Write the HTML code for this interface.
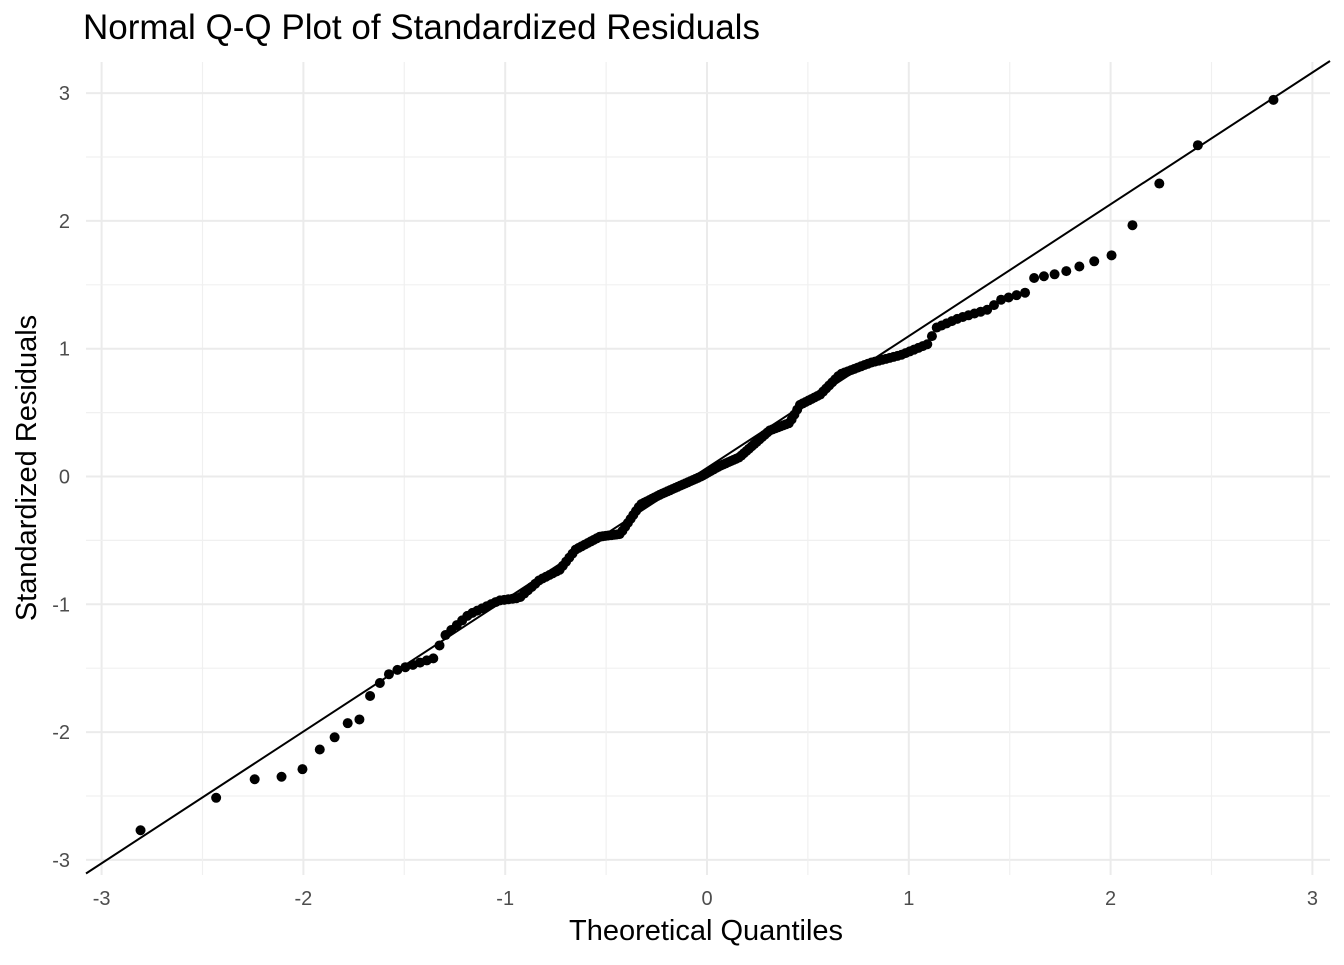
<!DOCTYPE html>
<html><head><style>
body{margin:0;background:#fff;width:1344px;height:960px;overflow:hidden}
text{font-family:"Liberation Sans",sans-serif}
</style></head><body>
<svg id="s" width="1344" height="960" xmlns="http://www.w3.org/2000/svg">
<rect width="1344" height="960" fill="#fff"/>
<g id="grid"></g>
<line x1="86" y1="873.5" x2="1330" y2="61" stroke="#000" stroke-width="2"/>
<g id="pts"></g>
<text x="83" y="39" font-size="35" fill="#000">Normal Q-Q Plot of Standardized Residuals</text>
<text x="706" y="940" font-size="29" text-anchor="middle" fill="#000">Theoretical Quantiles</text>
<text transform="translate(36,468) rotate(-90)" font-size="29" text-anchor="middle" fill="#000">Standardized Residuals</text>
<g id="lab" font-size="20" fill="#4d4d4d"></g>
</svg>
<script>
var X=function(v){return 707+v*201.8},Y=function(v){return 476.5-v*127.8};
var ns="http://www.w3.org/2000/svg";
function el(p,n,a,t){var e=document.createElementNS(ns,n);for(var k in a)e.setAttribute(k,a[k]);if(t!==undefined)e.textContent=t;document.getElementById(p).appendChild(e);}
for(var v=-3;v<=3.01;v+=0.5){var maj=Math.abs(v-Math.round(v))<0.01;
 el("grid","line",{x1:X(v),x2:X(v),y1:62,y2:875,stroke:maj?"#ebebeb":"#f0f0f0","stroke-width":maj?2:1.2});
 el("grid","line",{y1:Y(v),y2:Y(v),x1:86,x2:1330,stroke:maj?"#ebebeb":"#f0f0f0","stroke-width":maj?2:1.2});
 if(maj){el("lab","text",{x:X(v),y:905,"text-anchor":"middle"},String(v));
 el("lab","text",{x:70,y:Y(v)+7,"text-anchor":"end"},String(v));}}
var c=[[-2.81,-2.77],[-2.44,-2.52],[-2.25,-2.37],[-2.11,-2.35],[-2.01,-2.30],[-1.93,-2.15],[-1.85,-2.05],[-1.79,-1.93],[-1.73,-1.93],[-1.68,-1.74],[-1.63,-1.63],[-1.58,-1.55],[-1.53,-1.51],[-1.35,-1.42],[-1.31,-1.26],[-1.18,-1.08],[-1.03,-0.97],[-0.93,-0.95],[-0.83,-0.81],[-0.73,-0.73],[-0.65,-0.57],[-0.53,-0.47],[-0.43,-0.45],[-0.33,-0.22],[-0.23,-0.14],[-0.03,0],[0.06,0.08],[0.16,0.15],[0.31,0.36],[0.41,0.42],[0.46,0.56],[0.56,0.64],[0.66,0.8],[0.81,0.89],[0.96,0.95],[1.1,1.04],[1.13,1.16],[1.25,1.24],[1.40,1.31],[1.45,1.38],[1.58,1.44],[1.61,1.55],[1.75,1.59],[1.84,1.64],[1.91,1.68],[2.0,1.72],[2.11,1.97],[2.24,2.29],[2.43,2.59],[2.81,2.95]];
function f(x){if(x<=c[0][0])return c[0][1];for(var i=1;i<c.length;i++)if(x<=c[i][0]){var a=c[i-1],b=c[i];return a[1]+(b[1]-a[1])*(x-a[0])/(b[0]-a[0]);}return c[c.length-1][1];}
function qn(p){var a=[-39.6968302866538,220.946098424521,-275.928510446969,138.357751867269,-30.6647980661472,2.50662827745924],b=[-54.4760987982241,161.585836858041,-155.698979859887,66.8013118877197,-13.2806815528857],cc=[-7.78489400243029e-3,-0.322396458041136,-2.40075827716184,-2.54973253934373,4.37466414146497,2.93816398269878],d=[7.78469570904146e-3,0.32246712907004,2.445134137143,3.75440866190742];var q,r;
if(p<0.02425){q=Math.sqrt(-2*Math.log(p));return(((((cc[0]*q+cc[1])*q+cc[2])*q+cc[3])*q+cc[4])*q+cc[5])/((((d[0]*q+d[1])*q+d[2])*q+d[3])*q+1);}
if(p>1-0.02425){q=Math.sqrt(-2*Math.log(1-p));return -(((((cc[0]*q+cc[1])*q+cc[2])*q+cc[3])*q+cc[4])*q+cc[5])/((((d[0]*q+d[1])*q+d[2])*q+d[3])*q+1);}
q=p-0.5;r=q*q;return(((((a[0]*r+a[1])*r+a[2])*r+a[3])*r+a[4])*r+a[5])*q/(((((b[0]*r+b[1])*r+b[2])*r+b[3])*r+b[4])*r+1);}
var n=200;for(var i=1;i<=n;i++){var x=qn((i-0.5)/n);el("pts","circle",{cx:X(x),cy:Y(f(x)),r:5,fill:"#000"});}
</script>
</body></html>
